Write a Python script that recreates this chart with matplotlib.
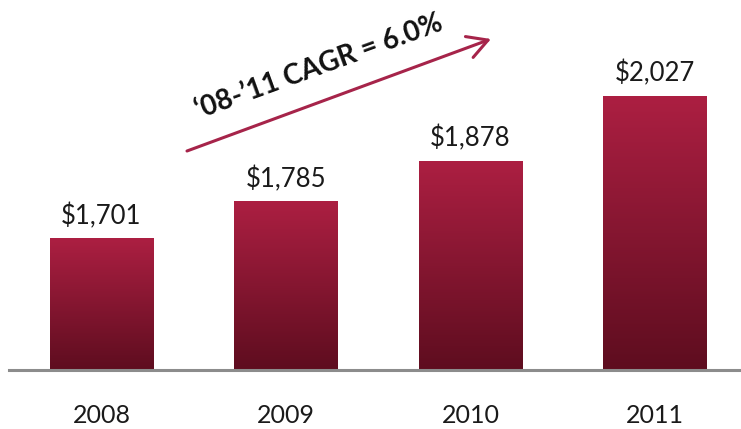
import numpy as np
import matplotlib
matplotlib.use("Agg")
import matplotlib.pyplot as plt
from matplotlib.colors import LinearSegmentedColormap

# Revenue by year ($ millions)
years = ["2008", "2009", "2010", "2011"]
values = [1701, 1785, 1878, 2027]
value_labels = ["$1,701", "$1,785", "$1,878", "$2,027"]
cagr_text = "\u201808-\u201911 CAGR = 6.0%"

TOP_COLOR = "#AC1F42"
BOTTOM_COLOR = "#5E0D1F"
ARROW_COLOR = "#A6244A"
AXIS_COLOR = "#8C8C8C"

fig = plt.figure(figsize=(7.41, 4.29), dpi=100)
ax = fig.add_axes([0.0125, 0.1364, 0.996, 0.8636])

y_min, y_max = 1400, 2249
bar_width = 0.56
cmap = LinearSegmentedColormap.from_list("bar_grad", [BOTTOM_COLOR, TOP_COLOR])
grad = np.linspace(0, 1, 256).reshape(-1, 1)

bars = ax.bar(range(len(values)), np.array(values) - y_min, bottom=y_min,
              width=bar_width, color="none", edgecolor="none")
for bar in bars:
    x0 = bar.get_x()
    x1 = x0 + bar.get_width()
    y0 = bar.get_y()
    y1 = y0 + bar.get_height()
    ax.imshow(grad, cmap=cmap, origin="lower", aspect="auto",
              extent=(x0, x1, y0, y1), zorder=2, interpolation="bicubic")
ax.set_xlim(-0.5, 3.5)
ax.set_ylim(y_min, y_max)

for i, (v, lab) in enumerate(zip(values, value_labels)):
    ax.annotate(lab, xy=(i, v), xytext=(0, 11), textcoords="offset points",
                ha="center", va="baseline", fontsize=18.5, family="Lato",
                color="#1a1a1a")

for i, yr in enumerate(years):
    ax.annotate(yr, xy=(i, 0), xycoords=("data", "axes fraction"),
                xytext=(0, -38), textcoords="offset points",
                ha="center", va="baseline", fontsize=18, family="Lato",
                color="#1a1a1a")

# Axis styling: only a grey baseline
for side in ["top", "right", "left"]:
    ax.spines[side].set_visible(False)
ax.spines["bottom"].set_color(AXIS_COLOR)
ax.spines["bottom"].set_linewidth(2.2)
ax.spines["bottom"].set_zorder(3)
ax.set_xticks([])
ax.set_yticks([])

# Growth arrow with CAGR annotation
fig.patches.append(matplotlib.patches.FancyArrowPatch(
    posA=(187 / 741, 1 - 151 / 429), posB=(491 / 741, 1 - 39 / 429),
    transform=fig.transFigure, arrowstyle="->,head_length=9,head_width=5",
    color=ARROW_COLOR, linewidth=2.2, mutation_scale=1.6, shrinkA=0, shrinkB=0))

fig.text(319 / 741, 1 - 67 / 429, cagr_text, rotation=20, rotation_mode="anchor",
         ha="center", va="center", fontsize=20, fontweight="bold",
         family="Lato", color="#111111")

fig.savefig("out.png", dpi=100)
